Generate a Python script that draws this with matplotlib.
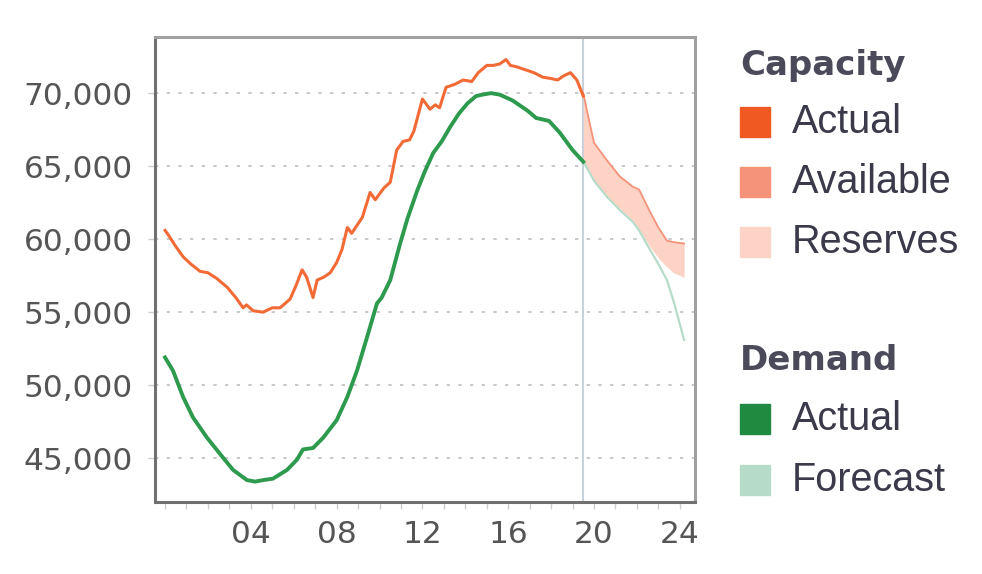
import matplotlib
matplotlib.use('Agg')
import matplotlib.pyplot as plt
from matplotlib.patches import Rectangle

# capacity actual (hour, MW)
cap_hours = [0.0, 0.15, 0.5, 0.84, 1.2, 1.63, 2.0, 2.42, 2.9, 3.3, 3.64, 3.8, 4.1, 4.57, 5.0,
             5.36, 5.6, 5.83, 6.1, 6.39, 6.6, 6.9, 7.09, 7.4, 7.7, 8.0, 8.25, 8.5, 8.7, 9.2,
             9.56, 9.8, 10.2, 10.5, 10.8, 11.1, 11.4, 11.6, 12.0, 12.35, 12.6, 12.8, 13.1, 13.5,
             13.9, 14.3, 14.6, 15.0, 15.3, 15.6, 15.9, 16.1, 16.4, 16.8, 17.2, 17.6, 18.0, 18.3,
             18.6, 18.9, 19.2, 19.5]
cap_actual = [60600, 60300, 59500, 58800, 58300, 57800, 57700, 57300, 56700, 56000, 55300, 55500,
              55100, 55000, 55300, 55300, 55600, 55900, 56800, 57900, 57400, 56000, 57200, 57400,
              57700, 58400, 59300, 60800, 60400, 61500, 63200, 62700, 63500, 63900, 66100, 66700,
              66800, 67400, 69600, 68900, 69200, 69000, 70400, 70600, 70900, 70800, 71400, 71900,
              71900, 72000, 72300, 71900, 71800, 71600, 71400, 71100, 71000, 70900, 71200, 71400,
              70900, 69800]

# demand actual
dem_hours = [0.0, 0.37, 0.84, 1.3, 1.96, 2.56, 3.17, 3.82, 4.2, 4.57, 5.03, 5.69, 6.15, 6.43, 6.9,
             7.37, 8.0, 8.5, 8.95, 9.42, 9.88, 10.1, 10.5, 10.96, 11.3, 11.75, 12.1, 12.5, 12.9,
             13.3, 13.7, 14.1, 14.5, 14.8, 15.2, 15.6, 16.2, 16.6, 16.9, 17.3, 17.9, 18.4, 19.0, 19.5]
dem_actual = [51900, 51000, 49200, 47800, 46400, 45300, 44200, 43500, 43400, 43500, 43600, 44200,
              44900, 45600, 45700, 46400, 47600, 49200, 51000, 53300, 55600, 56000, 57200, 59700,
              61400, 63300, 64600, 65900, 66700, 67700, 68600, 69300, 69800, 69900, 70000, 69900,
              69500, 69100, 68800, 68300, 68100, 67300, 66100, 65300]

# forecast part
fc_hours = [19.5, 19.7, 20.0, 20.6, 21.2, 21.8, 22.1, 22.6, 23.0, 23.4, 23.7, 24.2]
cap_available = [70000, 68600, 66600, 65400, 64300, 63600, 63400, 61900, 60800, 59900, 59800, 59700]
cap_reserves = [65300, 64800, 64000, 62900, 62100, 61300, 60700, 59500, 58700, 58100, 57700, 57400]
dem_forecast = [65300, 64800, 64000, 62900, 62000, 61200, 60600, 59300, 58300, 57200, 55800, 53100]
now_hour = 19.5

yticks = [45000, 50000, 55000, 60000, 65000, 70000]
xticks = [4, 8, 12, 16, 20, 24]
xtick_labels = ['04', '08', '12', '16', '20', '24']

c_cap = '#f05a22'
c_avail = '#f4937a'
c_res = '#fdd3c6'
c_dem = '#1f8a40'
c_fc = '#b6dcc9'

fig = plt.figure(figsize=(9.82, 5.74), dpi=100)
ax = fig.add_axes([0.1578, 0.1254, 0.55, 0.81])

ax.fill_between(fc_hours, cap_reserves, cap_available, color=c_res, lw=0, zorder=2)
ax.plot(fc_hours, cap_available, color=c_avail, lw=1.3, zorder=3)
ax.plot(fc_hours, dem_forecast, color=c_fc, lw=1.6, zorder=3)
ax.plot(cap_hours, cap_actual, color='#f26a36', lw=2.2, zorder=4)
ax.plot(dem_hours, dem_actual, color='#2e9a4e', lw=2.8, zorder=4)
ax.axvline(now_hour, color='#c9d1dd', lw=1.5, zorder=1)

ax.set_xlim(-0.47, 24.71)
ax.set_ylim(42000, 73840)
ax.set_yticks(yticks)
ax.set_yticklabels(['{:,}'.format(v) for v in yticks])
ax.set_xticks(xticks)
ax.set_xticklabels(xtick_labels)
ax.set_xticks(range(0, 25), minor=True)
ax.grid(axis='y', color='#bdbdc6', lw=1.2, linestyle=(0, (2, 5)), zorder=0)
ax.tick_params(axis='both', which='both', length=5, width=1, color='#cccccc',
               labelsize=22.5, labelcolor='#555555')
ax.tick_params(axis='y', pad=11)
ax.tick_params(axis='x', pad=8)
for s in ['top', 'right']:
    ax.spines[s].set_color('#a0a0a0')
    ax.spines[s].set_linewidth(2.2)
for s in ['left', 'bottom']:
    ax.spines[s].set_color('#707070')
    ax.spines[s].set_linewidth(2.2)

# legend, built by hand
W, H = 982.0, 574.0
groups = [('Capacity', 66, ['Actual', 'Available', 'Reserves'], [c_cap, c_avail, c_res], [122, 182, 242]),
          ('Demand', 360, ['Actual', 'Forecast'], [c_dem, c_fc], [419, 480])]
for title, ty, labels, colors, ys in groups:
    fig.text(740 / W, 1 - ty / H, title, fontsize=24.5, fontweight='bold', color='#4a4a5a',
             va='center', ha='left')
    for lab, col, y in zip(labels, colors, ys):
        fig.patches.append(Rectangle((740 / W, 1 - (y + 15) / H), 30 / W, 30 / H,
                                     transform=fig.transFigure, color=col, figure=fig))
        fig.text(792 / W, 1 - y / H, lab, fontsize=28.5, color='#3a3a4a',
                 va='center', ha='left', family='Liberation Sans')

fig.savefig('out.png', dpi=100)
